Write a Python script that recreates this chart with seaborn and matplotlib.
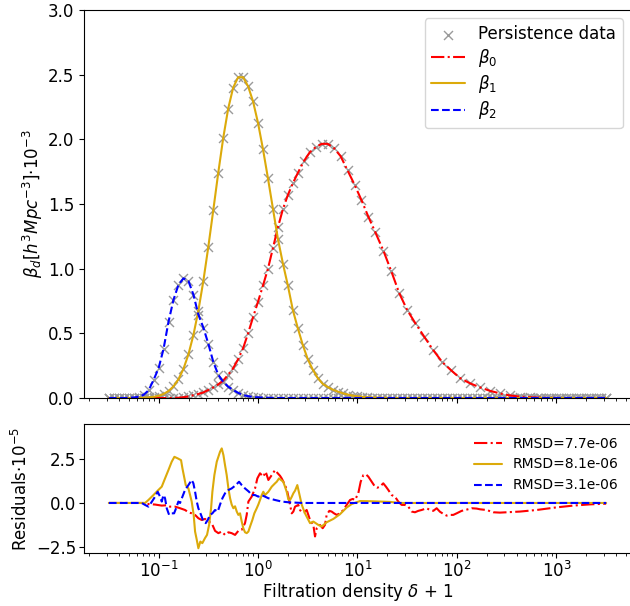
import numpy as np
import matplotlib
matplotlib.use("Agg")
import matplotlib.pyplot as plt
import seaborn as sns

# --- top panel data: log10(delta + 1) grids and Betti curves (units of 1e-3) ---
log_x_b12 = [-1.50, -1.45, -1.40, -1.35, -1.30, -1.25, -1.20, -1.15, -1.10, -1.05,
             -1.00, -0.95, -0.90, -0.85, -0.80, -0.75, -0.70, -0.65, -0.60, -0.55,
             -0.50, -0.45, -0.40, -0.35, -0.30, -0.25, -0.20, -0.15, -0.10, -0.05,
             0.00, 0.05, 0.10, 0.15, 0.20, 0.25, 0.30, 0.35, 0.40, 0.45,
             0.50, 0.55, 0.60, 0.65, 0.70, 0.75, 0.80, 0.85, 0.90, 0.95,
             1.00, 1.05, 1.10, 1.15, 1.20, 1.25, 1.30, 1.35, 1.40, 1.45,
             1.50, 1.55, 1.60, 1.65, 1.70, 1.75, 1.80, 1.85, 1.90, 1.95,
             2.00, 2.05, 2.10, 2.15, 2.20, 2.25, 2.30, 2.35, 2.40, 2.45,
             2.50, 2.55, 2.60, 2.65, 2.70, 2.75, 2.80, 2.85, 2.90, 2.95,
             3.00, 3.05, 3.10, 3.15, 3.20, 3.25, 3.30, 3.35, 3.40, 3.45,
             3.50]

beta1 = [0, 0, 0, 0, 0, 0, 0, 0.002, 0.005, 0.009,
         0.017, 0.031, 0.054, 0.09, 0.145, 0.225, 0.337, 0.486, 0.675, 0.904,
         1.168, 1.452, 1.741, 2.01, 2.238, 2.40, 2.48, 2.48, 2.41, 2.293,
         2.126, 1.923, 1.698, 1.463, 1.23, 1.04, 0.87, 0.68, 0.54, 0.41,
         0.30, 0.22, 0.155, 0.11, 0.085, 0.065, 0.05, 0.037, 0.027, 0.019,
         0.013, 0.009, 0.006, 0.004, 0.003, 0.002, 0.001, 0, 0, 0,
         0, 0, 0, 0, 0, 0, 0, 0, 0, 0,
         0, 0, 0, 0, 0, 0, 0, 0, 0, 0,
         0, 0, 0, 0, 0, 0, 0, 0, 0, 0,
         0, 0, 0, 0, 0, 0, 0, 0, 0, 0,
         0]

beta2 = [0, 0, 0, 0, 0.001, 0.004, 0.01, 0.025, 0.06, 0.14,
         0.23, 0.38, 0.59, 0.76, 0.875, 0.925, 0.905, 0.80, 0.645, 0.545,
         0.42, 0.28, 0.18, 0.125, 0.088, 0.062, 0.04, 0.023, 0.014, 0.008,
         0.005, 0.003, 0.002, 0.001, 0, 0, 0, 0, 0, 0,
         0, 0, 0, 0, 0, 0, 0, 0, 0, 0,
         0, 0, 0, 0, 0, 0, 0, 0, 0, 0,
         0, 0, 0, 0, 0, 0, 0, 0, 0, 0,
         0, 0, 0, 0, 0, 0, 0, 0, 0, 0,
         0, 0, 0, 0, 0, 0, 0, 0, 0, 0,
         0, 0, 0, 0, 0, 0, 0, 0, 0, 0,
         0]

log_x_b0 = [-1.50, -1.45, -1.40, -1.35, -1.30, -1.25, -1.20, -1.15, -1.10, -1.05,
            -1.00, -0.95, -0.90, -0.85, -0.80, -0.75, -0.70, -0.65, -0.60, -0.55,
            -0.50, -0.45, -0.40, -0.35, -0.30, -0.25, -0.20, -0.15, -0.10, -0.05,
            0.00, 0.05, 0.10, 0.15, 0.20, 0.25, 0.30, 0.35, 0.40,
            0.46, 0.52, 0.58, 0.64, 0.70, 0.76, 0.83, 0.90, 0.97, 1.04,
            1.11, 1.18, 1.26, 1.34, 1.42, 1.50, 1.58, 1.67, 1.76, 1.85,
            1.94, 2.03, 2.13, 2.23, 2.33, 2.43, 2.53, 2.63, 2.73, 2.83,
            2.93, 3.03, 3.13, 3.23, 3.33, 3.43, 3.50]

beta0 = [0, 0, 0, 0, 0, 0, 0, 0, 0, 0,
         0, 0, 0, 0, 0.002, 0.006, 0.012, 0.022, 0.031, 0.043,
         0.062, 0.082, 0.105, 0.135, 0.18, 0.23, 0.30, 0.385, 0.50, 0.625,
         0.745, 0.87, 1.00, 1.16, 1.32, 1.46, 1.57, 1.66, 1.74,
         1.83, 1.90, 1.94, 1.965, 1.965, 1.935, 1.87, 1.76, 1.65, 1.53,
         1.40, 1.28, 1.14, 0.98, 0.81, 0.68, 0.58, 0.475, 0.372, 0.28,
         0.215, 0.155, 0.114, 0.083, 0.056, 0.036, 0.020, 0.011, 0.006, 0.003,
         0.001, 0, 0, 0, 0, 0, 0]

# --- bottom panel: residuals (units of 1e-5) ---
res0_logx = [-1.50, -1.136, -1.102, -1.035, -0.968, -0.918, -0.885, -0.834, -0.784, -0.734,
             -0.700, -0.667, -0.633, -0.600, -0.566, -0.533, -0.499, -0.466, -0.432, -0.399,
             -0.365, -0.332, -0.298, -0.265, -0.231, -0.198, -0.164, -0.131, -0.114, -0.097,
             -0.064, -0.030, -0.007, 0.020, 0.053, 0.077, 0.104, 0.138, 0.171, 0.198,
             0.221, 0.238, 0.255, 0.271, 0.288, 0.305, 0.322, 0.339, 0.355, 0.372,
             0.405, 0.422, 0.439, 0.462, 0.489, 0.523, 0.556, 0.573, 0.590, 0.606,
             0.623, 0.650, 0.673, 0.690, 0.717, 0.740, 0.764, 0.791, 0.824, 0.858,
             0.891, 0.925, 0.952, 0.975, 1.008, 1.032, 1.059, 1.085, 1.109, 1.143,
             1.176, 1.199, 1.226, 1.259, 1.286, 1.310, 1.344, 1.377, 1.410, 1.444,
             1.477, 1.511, 1.545, 1.578, 1.611, 1.645, 1.695, 1.729, 1.762, 1.796,
             1.829, 1.862, 1.896, 1.930, 1.963, 1.997, 2.047, 2.097, 2.148, 2.198,
             2.231, 2.298, 2.365, 2.432, 2.500, 2.633, 2.801, 3.002, 3.169, 3.337,
             3.500]
res0 = [0, 0, -0.06, -0.09, -0.15, -0.13, -0.21, -0.21, -0.30, -0.40,
        -0.53, -0.59, -0.68, -0.87, -0.97, -0.91, -1.06, -1.15, -1.59, -1.72,
        -1.63, -1.82, -1.67, -1.72, -1.82, -1.59, -1.53, -1.15, -0.68, 0.08,
        0.36, 0.83, 1.40, 1.69, 1.50, 1.78, 1.31, 1.59, 1.875, 1.69,
        1.55, 1.40, 1.21, 1.00, 0.80, 0.36, -0.11, -0.59, -0.49, -0.21,
        -0.11, -0.40, -0.53, -0.53, -0.40, -0.97, -1.25, -1.91, -1.44, -1.34,
        -1.25, -1.44, -1.25, -0.68, -0.45, -0.49, -0.59, -0.68, -0.59, -0.40,
        -0.11, 0.17, 0.23, 0.17, 0.55, 1.21, 1.59, 1.63, 1.50, 1.21,
        0.93, 0.87, 0.93, 1.12, 0.93, 0.74, 0.45, 0.36, 0.08, -0.11,
        -0.11, -0.21, -0.49, -0.53, -0.45, -0.40, -0.30, -0.40, -0.45, -0.30,
        -0.50, -0.62, -0.72, -0.68, -0.68, -0.59, -0.45, -0.38, -0.30, -0.32,
        -0.36, -0.40, -0.53, -0.55, -0.53, -0.49, -0.40, -0.25, -0.15, -0.08,
        -0.04]

res1_logx = [-1.50, -1.136, -1.102, -1.052, -1.002, -0.968, -0.935, -0.901, -0.868, -0.841,
             -0.807, -0.774, -0.760, -0.740, -0.727, -0.700, -0.683, -0.667, -0.647, -0.633,
             -0.616, -0.600, -0.580, -0.560, -0.533, -0.513, -0.492, -0.472, -0.459, -0.439,
             -0.415, -0.382, -0.365, -0.348, -0.332, -0.315, -0.298, -0.281, -0.265, -0.248,
             -0.231, -0.214, -0.198, -0.181, -0.164, -0.148, -0.131, -0.114, -0.097, -0.080,
             -0.057, -0.037, -0.013, 0.003, 0.020, 0.037, 0.053, 0.070, 0.104, 0.138,
             0.171, 0.188, 0.211, 0.231, 0.254, 0.271, 0.288, 0.305, 0.322, 0.339,
             0.355, 0.372, 0.395, 0.439, 0.472, 0.523, 0.556, 0.606, 0.640, 0.690,
             0.757, 0.824, 0.891, 0.942, 1.025, 1.126, 1.327, 1.427, 3.500]
res1 = [0, 0, 0.17, 0.45, 0.74, 0.93, 1.40, 1.875, 2.35, 2.63,
        2.54, 2.44, 1.97, 1.40, 1.02, 0.83, 0.45, 0.08, -0.68, -1.63,
        -2.10, -2.58, -2.20, -2.29, -2.00, -1.82, -1.25, -0.30, 0.64, 1.59,
        2.35, 2.92, 3.11, 2.73, 2.16, 1.59, 0.83, 0.27, -0.09, -0.30,
        -0.19, -0.49, -0.68, -0.59, -1.06, -1.44, -1.67, -1.72, -1.63, -1.34,
        -0.97, -0.59, -0.30, -0.09, 0.17, 0.45, 0.64, 0.45, 0.64, 0.93,
        1.12, 1.21, 1.40, 1.31, 1.21, 0.93, 0.64, 0.20, 0.17, 0.35,
        0.55, 0.70, 1.02, -0.09, -0.59, -1.15, -1.06, -1.25, -1.34, -1.10,
        -0.91, -0.64, -0.26, -0.06, 0.11, 0.10, 0.06, 0, 0]

res2_logx = [-1.50, -1.170, -1.136, -1.102, -1.069, -1.035, -1.009, -0.985, -0.968, -0.951,
             -0.935, -0.918, -0.894, -0.868, -0.844, -0.824, -0.801, -0.784, -0.760, -0.734,
             -0.700, -0.667, -0.650, -0.633, -0.616, -0.600, -0.573, -0.549, -0.526, -0.506,
             -0.482, -0.459, -0.432, -0.405, -0.382, -0.358, -0.332, -0.298, -0.265, -0.231,
             -0.191, -0.164, -0.131, -0.091, -0.064, -0.030, 0.003, 0.037, 0.104, 0.171,
             0.238, 0.305, 0.372, 0.450, 3.500]
res2 = [0, 0, -0.11, -0.21, 0.06, 0.36, 0.64, 0.36, 0.08, 0.45,
        0.27, -0.30, -0.68, -0.59, -0.59, -0.30, 0.08, 0, 0.36, 0.74,
        1.02, 1.31, 1.12, 0.64, 0.08, -0.30, -0.68, -1.06, -1.15, -0.97,
        -0.68, -0.59, -0.40, -0.49, -0.09, 0.27, 0.55, 0.74, 0.83, 0.98,
        1.21, 1.02, 0.83, 0.64, 0.45, 0.45, 0.36, 0.45, 0.27, 0.17,
        0.08, 0.04, 0.02, 0, 0]

rmsd_labels = ['RMSD=7.7e-06', 'RMSD=8.1e-06', 'RMSD=3.1e-06']

red = '#ff0000'
gold = '#dcaa0a'
blue = '#0000ff'

sns.set_style('ticks', {'axes.edgecolor': 'black', 'text.color': 'black',
                        'axes.labelcolor': 'black', 'xtick.color': 'black',
                        'ytick.color': 'black'})
plt.rcParams['font.family'] = ['DejaVu Sans']
plt.rcParams['font.size'] = 12
plt.rcParams['xtick.major.size'] = 3.5
plt.rcParams['ytick.major.size'] = 3.5
plt.rcParams['xtick.minor.size'] = 2
plt.rcParams['ytick.minor.size'] = 2

fig = plt.figure(figsize=(6.3, 6.06), dpi=100)
ax1 = fig.add_axes([0.1333, 0.3432, 0.8683, 0.6403])
ax2 = fig.add_axes([0.1333, 0.0875, 0.8683, 0.2128], sharex=ax1)

x_b12 = np.power(10.0, log_x_b12)
x_b0 = np.power(10.0, log_x_b0)

# persistence data crosses
cross_kw = dict(marker='x', color='#9a9a9a', s=42, linewidth=1.0, ax=ax1)
sns.scatterplot(x=x_b0, y=beta0, label='Persistence data', **cross_kw)
sns.scatterplot(x=x_b12, y=beta1, **cross_kw)
sns.scatterplot(x=x_b12, y=beta2, **cross_kw)

# fitted curves
sns.lineplot(x=x_b0, y=beta0, ax=ax1, color=red, linestyle='-.', label=r'$\beta_0$')
sns.lineplot(x=x_b12, y=beta1, ax=ax1, color=gold, linestyle='-', label=r'$\beta_1$')
sns.lineplot(x=x_b12, y=beta2, ax=ax1, color=blue, linestyle='--', label=r'$\beta_2$')

ax1.set_xscale('log')
ax1.set_ylim(0, 3.0)
ax1.set_yticks([0, 0.5, 1.0, 1.5, 2.0, 2.5, 3.0])
ax1.set_ylabel(r'$\beta_d[h^3Mpc^{-3}]$·$10^{-3}$', labelpad=2)
ax1.set_xlabel('')
ax1.tick_params(labelbottom=False, labelsize=12)
ax1.legend(loc='upper right', fontsize=12, frameon=True, labelspacing=0.25)

# residuals
sns.lineplot(x=np.power(10.0, res0_logx), y=res0, ax=ax2, color=red, linestyle='-.',
             label=rmsd_labels[0])
sns.lineplot(x=np.power(10.0, res1_logx), y=res1, ax=ax2, color=gold, linestyle='-',
             label=rmsd_labels[1])
sns.lineplot(x=np.power(10.0, res2_logx), y=res2, ax=ax2, color=blue, linestyle='--',
             label=rmsd_labels[2])

ax2.set_xscale('log')
ax2.set_ylim(-2.85, 4.5)
ax2.set_yticks([-2.5, 0.0, 2.5])
ax2.set_ylabel(r'Residuals·$10^{-5}$')
ax2.set_xlabel(r'Filtration density $\delta$ + 1', labelpad=0)
ax2.tick_params(labelsize=12, pad=2)
ax2.legend(loc='upper right', fontsize=10, frameon=False)

fig.savefig('out.png', dpi=100)
